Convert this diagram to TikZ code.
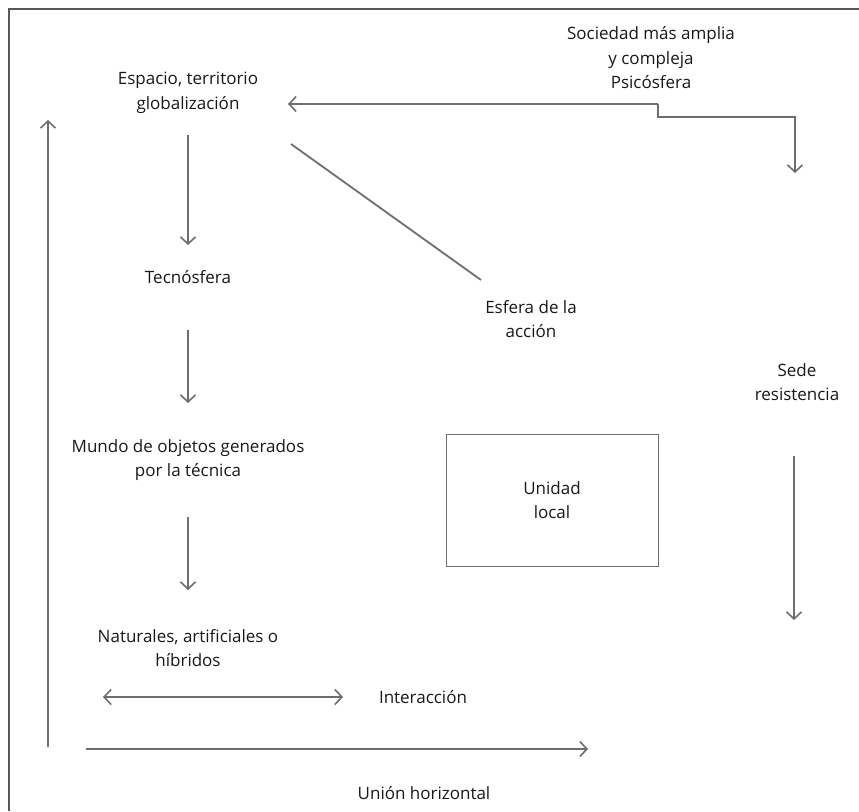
\documentclass[tikz,border=0pt]{standalone}
\usepackage{fontspec}
\setmainfont{Open Sans}
\usetikzlibrary{arrows.meta}
\definecolor{linegray}{HTML}{6E6E6E}
\definecolor{txt}{HTML}{1A1718}
\begin{document}
\begin{tikzpicture}[x=1pt,y=-1pt,
  lbl/.style={text=txt,font=\fontsize{17}{24.5}\selectfont,align=center,inner sep=0pt},
  conn/.style={draw=linegray,line width=1.8pt,-{Straight Barb[length=7pt,width=15pt,line width=1.6pt]}},
  dconn/.style={draw=linegray,line width=1.8pt,{Straight Barb[length=7pt,width=15pt,line width=1.6pt]}-{Straight Barb[length=7pt,width=15pt,line width=1.6pt]}},
  plain/.style={draw=linegray,line width=1.8pt},
  boxst/.style={draw=linegray,line width=1pt,minimum width=212pt,minimum height=132pt,inner sep=0pt}]
\useasboundingbox (0,0) rectangle (859,811);
% frame
\draw[draw=linegray!80!black,line width=2pt] (9,811) -- (9,9) -- (859,9);
% text nodes
\node[lbl] (soc) at (651,58) {Sociedad más amplia\\y compleja\\Psicósfera};
\node[lbl] (esp) at (188,93) {Espacio, territorio\\globalización};
\node[lbl] (tec) at (188,277) {Tecnósfera};
\node[lbl] (mun) at (188,460) {Mundo de objetos generados\\por la técnica};
\node[lbl] (nat) at (188,648) {Naturales, artificiales o\\híbridos};
\node[lbl] (int) at (423,697) {Interacción};
\node[lbl] (uni) at (424,793) {Unión horizontal};
\node[lbl] (esf) at (531,319) {Esfera de la\\acción};
\node[lbl] (sed) at (797,382) {Sede\\resistencia};
\node[boxst] (box) at (552,500) {};
\node[lbl] (ul) at (box.center) {Unidad\\local};
% coordinates for connector ends
\coordinate (sA) at (658,104);
\coordinate (sB) at (288,104);
\coordinate (sC) at (658,117);
\coordinate (sD) at (795,117);
\coordinate (sE) at (795,173);
\coordinate (e1) at (188,135);
\coordinate (e2) at (188,245);
\coordinate (t1) at (188,330);
\coordinate (t2) at (188,403);
\coordinate (m1) at (188,517);
\coordinate (m2) at (188,590);
\coordinate (d1) at (291,144);
\coordinate (d2) at (481,280);
\coordinate (v1) at (48,747);
\coordinate (v2) at (48,120);
\coordinate (h1) at (86,749);
\coordinate (h2) at (588,749);
\coordinate (i1) at (103,697);
\coordinate (i2) at (343,697);
\coordinate (r1) at (794,456);
\coordinate (r2) at (794,620);
% connectors
\draw[conn] (sA) -- (sB);
\draw[conn] (sA) -- (sC) -- (sD) -- (sE);
\draw[conn] (e1) -- (e2);
\draw[conn] (t1) -- (t2);
\draw[conn] (m1) -- (m2);
\draw[plain] (d1) -- (d2);
\draw[conn] (v1) -- (v2);
\draw[conn] (h1) -- (h2);
\draw[dconn] (i1) -- (i2);
\draw[conn] (r1) -- (r2);
\end{tikzpicture}
\end{document}
